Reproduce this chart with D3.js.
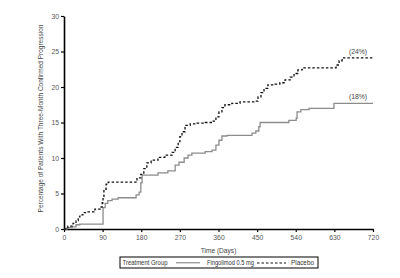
<!DOCTYPE html>
<html>
<head>
<meta charset="utf-8">
<script src="https://cdn.jsdelivr.net/npm/d3@7"></script>
<style>
  body { margin: 0; background: #fff; }
  svg { font-family: "Liberation Sans", Arial, sans-serif; }
</style>
</head>
<body>
<div class="canvas"></div>
<script>
// step points: [day, percent]
const fingolimod = [
  [0, 0], [7, 0.2], [19, 0.3], [28, 0.6], [37, 0.7], [91, 3.0], [96, 3.6],
  [102, 4.0], [112, 4.2], [126, 4.4], [168, 4.8], [175, 5.2], [179, 6.5],
  [182, 7.6], [219, 7.9], [242, 8.2], [259, 9.0], [268, 9.4], [280, 10.0],
  [289, 10.4], [298, 10.7], [329, 10.9], [345, 11.1], [354, 11.8], [361, 12.5],
  [368, 13.1], [380, 13.2], [438, 13.5], [447, 13.8], [454, 14.4], [457, 15.0],
  [524, 15.3], [541, 15.6], [543, 16.5], [552, 16.8], [571, 17.0], [629, 17.7],
  [720, 17.7]
];
const placebo = [
  [0, 0], [9, 0.4], [21, 0.8], [28, 1.2], [33, 1.7], [37, 2.0], [44, 2.3],
  [54, 2.4], [72, 2.8], [84, 3.1], [89, 3.7], [91, 4.6], [93, 5.6], [98, 6.3],
  [103, 6.6], [170, 7.2], [179, 7.7], [186, 8.5], [193, 9.3], [203, 9.7],
  [219, 10.1], [235, 10.4], [252, 10.8], [259, 11.5], [266, 12.3], [270, 13.0],
  [275, 13.7], [282, 14.6], [294, 14.8], [310, 14.9], [329, 15.0], [345, 15.2],
  [354, 15.8], [361, 16.5], [368, 17.1], [375, 17.5], [391, 17.7], [410, 17.9],
  [445, 18.0], [452, 18.6], [459, 19.2], [466, 19.8], [475, 20.3], [492, 20.4],
  [503, 20.6], [515, 21.0], [527, 21.4], [536, 21.9], [545, 22.4], [555, 22.7],
  [634, 23.1], [641, 23.7], [648, 24.1], [720, 24.1]
];
const xTicks = [0, 90, 180, 270, 360, 450, 540, 630, 720];
const yTicks = [0, 5, 10, 15, 20, 25, 30];
const endLabels = ['(18%)', '(24%)'];

const svg = d3.select('.canvas')
  .append('svg')
  .attr('width', 400)
  .attr('height', 278);

const margin = { top: 16, right: 27, bottom: 49, left: 64 };
const graphWidth = 400 - margin.left - margin.right;
const graphHeight = 278 - margin.top - margin.bottom;

const graph = svg.append('g')
  .attr('transform', `translate(${margin.left}, ${margin.top})`);

const x = d3.scaleLinear().domain([0, 720]).range([0, graphWidth]);
const y = d3.scaleLinear().domain([0, 30]).range([graphHeight, 0]);

// axes
const xAxis = d3.axisBottom(x).tickValues(xTicks).tickSize(3).tickSizeOuter(0);
const yAxis = d3.axisLeft(y).tickValues(yTicks).tickSize(3).tickSizeOuter(0);

const xAxisGroup = graph.append('g')
  .attr('transform', `translate(0, ${graphHeight})`)
  .call(xAxis);
const yAxisGroup = graph.append('g').call(yAxis);

[xAxisGroup, yAxisGroup].forEach(g => {
  g.select('.domain').attr('stroke', '#000').attr('stroke-width', 1.6);
  g.selectAll('.tick line').attr('stroke', '#000').attr('stroke-width', 1.2);
  g.selectAll('.tick text')
    .attr('fill', '#555')
    .attr('font-size', 6.8)
    .attr('font-family', '"Liberation Sans", Arial, sans-serif');
});
yAxisGroup.selectAll('.tick text').attr('x', -5);
xAxisGroup.selectAll('.tick text').attr('y', 6);

// axis titles
graph.append('text')
  .attr('x', graphWidth / 2)
  .attr('y', graphHeight + 24)
  .attr('text-anchor', 'middle')
  .attr('font-size', 6.6)
  .attr('fill', '#444')
  .text('Time (Days)');

graph.append('text')
  .attr('transform', `translate(-21, ${graphHeight / 2 - 4}) rotate(-90)`)
  .attr('text-anchor', 'middle')
  .attr('font-size', 6.5)
  .attr('fill', '#444')
  .text('Percentage of Patients With Three-Month Confirmed Progression');

// step lines
const line = d3.line()
  .x(d => x(d[0]))
  .y(d => y(d[1]))
  .curve(d3.curveStepAfter);

graph.append('path')
  .datum(fingolimod)
  .attr('fill', 'none')
  .attr('stroke', '#8c8c8c')
  .attr('stroke-width', 1.3)
  .attr('d', line);

graph.append('path')
  .datum(placebo)
  .attr('fill', 'none')
  .attr('stroke', '#111')
  .attr('stroke-width', 1.3)
  .attr('stroke-dasharray', '2.5,2')
  .attr('d', line);

// end labels
const last = [fingolimod[fingolimod.length - 1], placebo[placebo.length - 1]];
graph.selectAll('.endlabel')
  .data(last)
  .enter()
  .append('text')
  .attr('x', d => x(d[0]) - 15)
  .attr('y', d => y(d[1]) - 4)
  .attr('text-anchor', 'middle')
  .attr('font-size', 6.8)
  .attr('fill', '#444')
  .text((d, i) => endLabels[i]);

// legend
const legend = svg.append('g').attr('transform', 'translate(120, 257)');
legend.append('rect')
  .attr('width', 198)
  .attr('height', 11)
  .attr('fill', '#fff')
  .attr('stroke', '#000')
  .attr('stroke-width', 1);
legend.append('text')
  .attr('x', 2.5).attr('y', 8.2)
  .attr('font-size', 6.6).attr('fill', '#333')
  .attr('textLength', 45).attr('lengthAdjust', 'spacingAndGlyphs')
  .text('Treatment Group');
legend.append('line')
  .attr('x1', 56).attr('x2', 80).attr('y1', 5.8).attr('y2', 5.8)
  .attr('stroke', '#555').attr('stroke-width', 0.8);
legend.append('text')
  .attr('x', 87).attr('y', 8.2)
  .attr('font-size', 6.6).attr('fill', '#333')
  .attr('textLength', 47).attr('lengthAdjust', 'spacingAndGlyphs')
  .text('Fingolimod 0.5 mg');
legend.append('line')
  .attr('x1', 137).attr('x2', 166).attr('y1', 6).attr('y2', 6)
  .attr('stroke', '#111').attr('stroke-width', 1)
  .attr('stroke-dasharray', '2.5,2');
legend.append('text')
  .attr('x', 171).attr('y', 8.2)
  .attr('font-size', 6.6).attr('fill', '#333')
  .attr('textLength', 23).attr('lengthAdjust', 'spacingAndGlyphs')
  .text('Placebo');
</script>
</body>
</html>
